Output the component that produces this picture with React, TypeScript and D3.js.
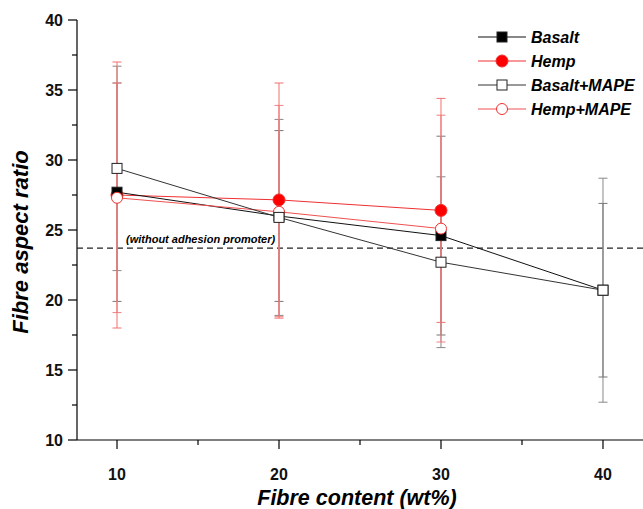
import React from 'react';
import * as d3 from 'd3';

// data
const fibreContent = [10, 20, 30, 40];
const basalt = [27.7, 26.0, 24.6, 20.7];
const basaltErr = [7.8, 6.1, 7.1, 6.2];
const hemp = [27.5, 27.15, 26.4];
const hempErr = [9.5, 8.35, 8.0];
const basaltMape = [29.4, 25.9, 22.7, 20.7];
const basaltMapeErr = [7.3, 7.0, 6.1, 8.0];
const hempMape = [27.3, 26.3, 25.1];
const hempMapeErr = [8.2, 7.6, 8.1];
const referenceLevel = 23.7;
const yTicks = [10, 15, 20, 25, 30, 35, 40];
const yMinor = [12.5, 17.5, 22.5, 27.5, 32.5, 37.5];
const xTicks = [10, 20, 30, 40];
const xMinor = [15, 25, 35];

const W = 643;
const H = 509;
const FONT = '"Liberation Sans", Arial, sans-serif';

const x = d3.scaleLinear().domain([7.53, 42.47]).range([77, 643]);
const y = d3.scaleLinear().domain([10, 40]).range([440, 20]);

type Series = {
    name: string;
    values: number[];
    errs: number[];
    line: string;
    bar: string;
    marker: 'square' | 'circle';
    filled: boolean;
};

const series: Series[] = [
    { name: 'Hemp', values: hemp, errs: hempErr, line: '#f03030', bar: '#f07070', marker: 'circle', filled: true },
    { name: 'Basalt', values: basalt, errs: basaltErr, line: '#111', bar: '#777', marker: 'square', filled: true },
    { name: 'Hemp+MAPE', values: hempMape, errs: hempMapeErr, line: '#f05050', bar: '#f08080', marker: 'circle', filled: false },
    { name: 'Basalt+MAPE', values: basaltMape, errs: basaltMapeErr, line: '#333', bar: '#888', marker: 'square', filled: false },
];
// gray bars below, red bars on top
const barOrder = ['Basalt+MAPE', 'Basalt', 'Hemp+MAPE', 'Hemp'];
const legendOrder = ['Basalt', 'Hemp', 'Basalt+MAPE', 'Hemp+MAPE'];

function Marker({ s, cx, cy }: { s: Series; cx: number; cy: number }) {
    const fill = s.filled ? (s.marker === 'circle' ? '#f00' : '#000') : '#fff';
    const stroke = s.marker === 'circle' ? '#f03030' : '#222';
    if (s.marker === 'circle') {
        return <circle cx={cx} cy={cy} r={s.filled ? 6 : 5.5} fill={fill} stroke={stroke} strokeWidth={1} />;
    }
    return <rect x={cx - 5} y={cy - 5} width={10} height={10} fill={fill} stroke={stroke} strokeWidth={1} />;
}

export default function App() {
    const line = d3.line<number>().x((_, i) => x(fibreContent[i])).y(d => y(d));
    return (
        <svg width={W} height={H} style={{ position: 'absolute', left: 0, top: 0, background: '#fff' }}>
            {/* axes */}
            <g stroke="#000" strokeWidth={1.2}>
                <line x1={77} x2={77} y1={y(40)} y2={y(10)} />
                <line x1={77} x2={W} y1={y(10)} y2={y(10)} />
                {yTicks.map(t => <line key={t} x1={68} x2={77} y1={y(t)} y2={y(t)} />)}
                {yMinor.map(t => <line key={t} x1={72} x2={77} y1={y(t)} y2={y(t)} />)}
                {xTicks.map(t => <line key={t} x1={x(t)} x2={x(t)} y1={440} y2={449} />)}
                {xMinor.map(t => <line key={t} x1={x(t)} x2={x(t)} y1={440} y2={445} />)}
            </g>
            <g fontFamily={FONT} fontWeight="bold" fontSize={16} fill="#111">
                {yTicks.map(t => (
                    <text key={t} x={63} y={y(t) + 6} textAnchor="end">{t}</text>
                ))}
                {xTicks.map(t => (
                    <text key={t} x={x(t)} y={480} textAnchor="middle">{t}</text>
                ))}
            </g>
            <text x={357} y={505} textAnchor="middle" fontFamily={FONT} fontWeight="bold" fontStyle="italic" fontSize={21.5}>
                Fibre content (wt%)
            </text>
            <text transform="translate(28,242) rotate(-90)" textAnchor="middle" fontFamily={FONT}
                fontWeight="bold" fontStyle="italic" fontSize={22}>
                Fibre aspect ratio
            </text>

            {/* reference level */}
            <line x1={77} x2={W} y1={y(referenceLevel)} y2={y(referenceLevel)} stroke="#222" strokeWidth={1.2} strokeDasharray="6,4" />
            <text x={126} y={y(referenceLevel) - 5} fontFamily={FONT} fontWeight="bold" fontStyle="italic" fontSize={11}>
                (without adhesion promoter)
            </text>

            {/* error bars */}
            {barOrder.map(name => series.find(d => d.name === name)!).map(s => (
                <g key={s.name + 'err'} stroke={s.bar} strokeWidth={1}>
                    {s.values.map((v, i) => {
                        const cx = x(fibreContent[i]);
                        const top = y(v + s.errs[i]);
                        const bot = y(v - s.errs[i]);
                        return (
                            <g key={i}>
                                <line x1={cx} x2={cx} y1={top} y2={bot} />
                                <line x1={cx - 4.5} x2={cx + 4.5} y1={top} y2={top} />
                                <line x1={cx - 4.5} x2={cx + 4.5} y1={bot} y2={bot} />
                            </g>
                        );
                    })}
                </g>
            ))}

            {/* lines */}
            {series.map(s => (
                <path key={s.name + 'line'} d={line(s.values) || ''} fill="none" stroke={s.line} strokeWidth={1} />
            ))}
            {series.map(s => (
                <g key={s.name + 'pts'}>
                    {s.values.map((v, i) => <Marker key={i} s={s} cx={x(fibreContent[i])} cy={y(v)} />)}
                </g>
            ))}

            {/* legend */}
            {legendOrder.map((name, i) => {
                const s = series.find(d => d.name === name)!;
                const ly = 37 + i * 24;
                return (
                    <g key={name}>
                        <line x1={478} x2={526} y1={ly} y2={ly} stroke={s.line} strokeWidth={1} />
                        <Marker s={s} cx={502} cy={ly} />
                        <text x={531} y={ly + 6} fontFamily={FONT} fontWeight="bold" fontStyle="italic" fontSize={16}>{name}</text>
                    </g>
                );
            })}
        </svg>
    );
}
